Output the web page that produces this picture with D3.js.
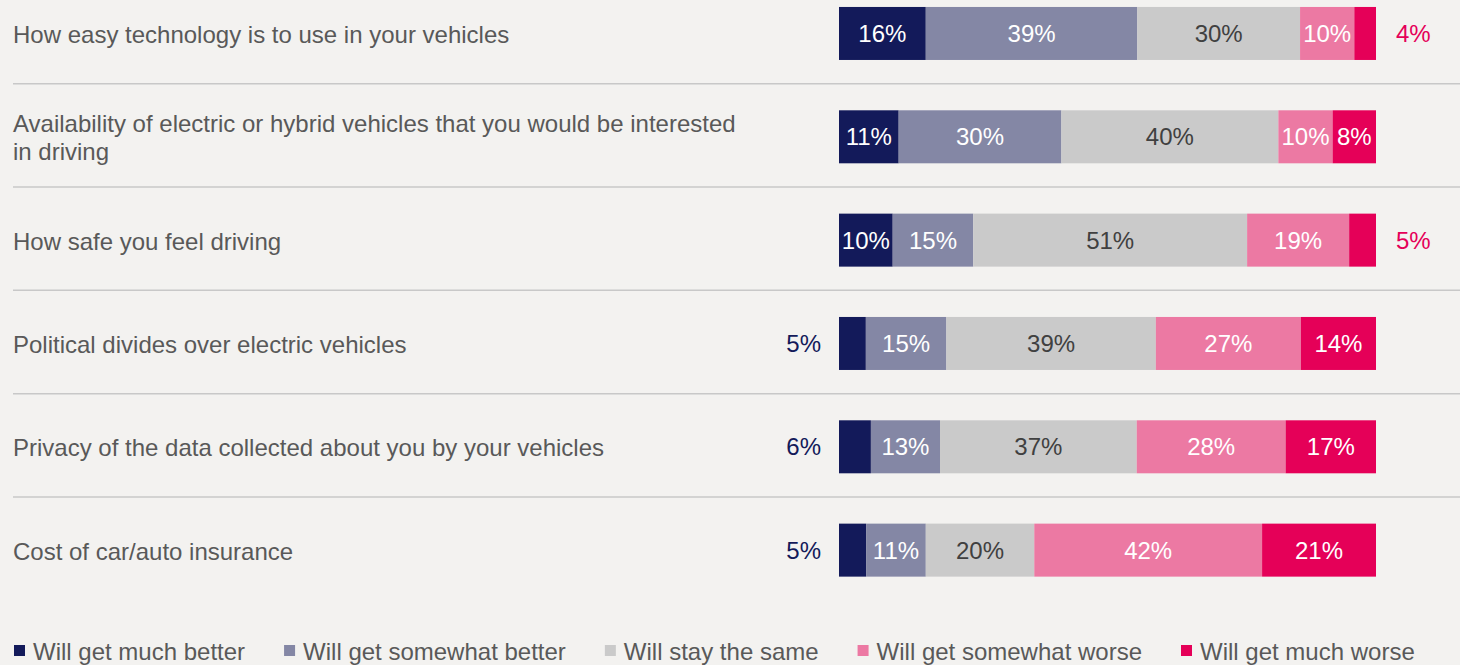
<!DOCTYPE html>
<html>
<head>
<meta charset="utf-8">
<script src="https://cdn.jsdelivr.net/npm/d3@7"></script>
<style>
  html, body { margin: 0; padding: 0; background: #f3f2f0; }
  svg { display: block; font-family: "Liberation Sans", Arial, Helvetica, sans-serif; }
</style>
</head>
<body>
<svg id="chart" width="1460" height="665"></svg>
<script>
// Survey items (one stacked bar each)
const categories = [
  "How easy technology is to use in your vehicles",
  "Availability of electric or hybrid vehicles that you would be interested in driving",
  "How safe you feel driving",
  "Political divides over electric vehicles",
  "Privacy of the data collected about you by your vehicles",
  "Cost of car/auto insurance"
];

// Wrapped label lines
const labelLines = [
  ["How easy technology is to use in your vehicles"],
  ["Availability of electric or hybrid vehicles that you would be interested", "in driving"],
  ["How safe you feel driving"],
  ["Political divides over electric vehicles"],
  ["Privacy of the data collected about you by your vehicles"],
  ["Cost of car/auto insurance"]
];

const seriesNames = [
  "Will get much better",
  "Will get somewhat better",
  "Will stay the same",
  "Will get somewhat worse",
  "Will get much worse"
];

// Percent of respondents, per series, in category order
const muchBetter     = [16, 11, 10,  5,  6,  5];
const somewhatBetter = [39, 30, 15, 15, 13, 11];
const staySame       = [30, 40, 51, 39, 37, 20];
const somewhatWorse  = [10, 10, 19, 27, 28, 42];
const muchWorse      = [ 4,  8,  5, 14, 17, 21];

const seriesValues = [muchBetter, somewhatBetter, staySame, somewhatWorse, muchWorse];

const colors      = ["#131a5a", "#8487a5", "#cacaca", "#ec79a3", "#e50058"];
const inTextColor = ["#ffffff", "#ffffff", "#404040", "#ffffff", "#ffffff"];
const outTextColor = ["#131a5a", "#8487a5", "#404040", "#ec79a3", "#e50058"];

const rows = categories.map((c, i) => {
  const r = { category: c };
  seriesNames.forEach((s, k) => { r[s] = seriesValues[k][i]; });
  return r;
});

const svg = d3.select("#chart");

const x = d3.scaleLinear().domain([0, 1]).range([839, 1376]);
const y = d3.scaleBand().domain(categories).range([-18.2, 601.8]).paddingInner(0).paddingOuter(0);
const barH = 53;
const barTop = c => y(c) + y.bandwidth() / 2 - barH / 2;
const mid = c => y(c) + y.bandwidth() / 2;

// Each bar is the full answer distribution, scaled to its row total
const stacked = d3.stack().keys(seriesNames).offset(d3.stackOffsetExpand)(rows);

// Row separators
svg.append("g")
  .selectAll("line")
  .data(categories.slice(1))
  .join("line")
  .attr("x1", 13).attr("x2", 1460)
  .attr("y1", d => y(d) - 1.5).attr("y2", d => y(d) - 1.5)
  .attr("stroke", "#c8c8c8")
  .attr("stroke-width", 1.5);

// Category labels
const lab = svg.append("g")
  .selectAll("text")
  .data(categories)
  .join("text")
  .attr("x", 13)
  .attr("y", d => mid(d))
  .attr("fill", "#595959")
  .style("font-size", "24px");

lab.each(function(d, i) {
  const lines = labelLines[i];
  const lh = 28;
  const off = -(lines.length - 1) * lh / 2;
  d3.select(this).selectAll("tspan")
    .data(lines)
    .join("tspan")
    .attr("x", 13)
    .attr("dy", (l, j) => j === 0 ? off + 9.5 : lh)
    .text(l => l);
});

// Stacked segments
const seg = svg.append("g")
  .selectAll("g")
  .data(stacked)
  .join("g")
  .attr("fill", (d, k) => colors[k]);

seg.selectAll("rect")
  .data(d => d.map(p => ({ p, key: d.key, k: d.index })))
  .join("rect")
  .attr("x", d => x(d.p[0]))
  .attr("width", d => x(d.p[1]) - x(d.p[0]))
  .attr("y", d => barTop(d.p.data.category))
  .attr("height", barH);

// Value labels: small end segments are labelled outside the bar
const valueLabels = [];
stacked.forEach((s, k) => {
  s.forEach(p => {
    const v = p.data[s.key];
    const c = p.data.category;
    let xp, anchor, fill;
    if (v < 7 && k === 0) {
      xp = x(0) - 18; anchor = "end"; fill = outTextColor[k];
    } else if (v < 7 && k === seriesNames.length - 1) {
      xp = x(1) + 20; anchor = "start"; fill = outTextColor[k];
    } else {
      xp = (x(p[0]) + x(p[1])) / 2; anchor = "middle"; fill = inTextColor[k];
    }
    valueLabels.push({ xp, yp: mid(c), anchor, fill, text: v + "%" });
  });
});

svg.append("g")
  .selectAll("text")
  .data(valueLabels)
  .join("text")
  .attr("x", d => d.xp)
  .attr("y", d => d.yp + 8.5)
  .attr("text-anchor", d => d.anchor)
  .attr("fill", d => d.fill)
  .style("font-size", "24px")
  .text(d => d.text);

// Legend
const legend = svg.append("g").attr("transform", "translate(0,651)");
let lx = 14;
seriesNames.forEach((name, k) => {
  const g = legend.append("g").attr("transform", `translate(${lx},0)`);
  g.append("rect").attr("x", 0).attr("y", -6).attr("width", 11).attr("height", 11).attr("fill", colors[k]);
  const t = g.append("text").attr("x", 19).attr("y", 9)
    .attr("fill", "#595959").style("font-size", "24px").text(name);
  lx += 19 + t.node().getComputedTextLength() + 39;
});
</script>
</body>
</html>
